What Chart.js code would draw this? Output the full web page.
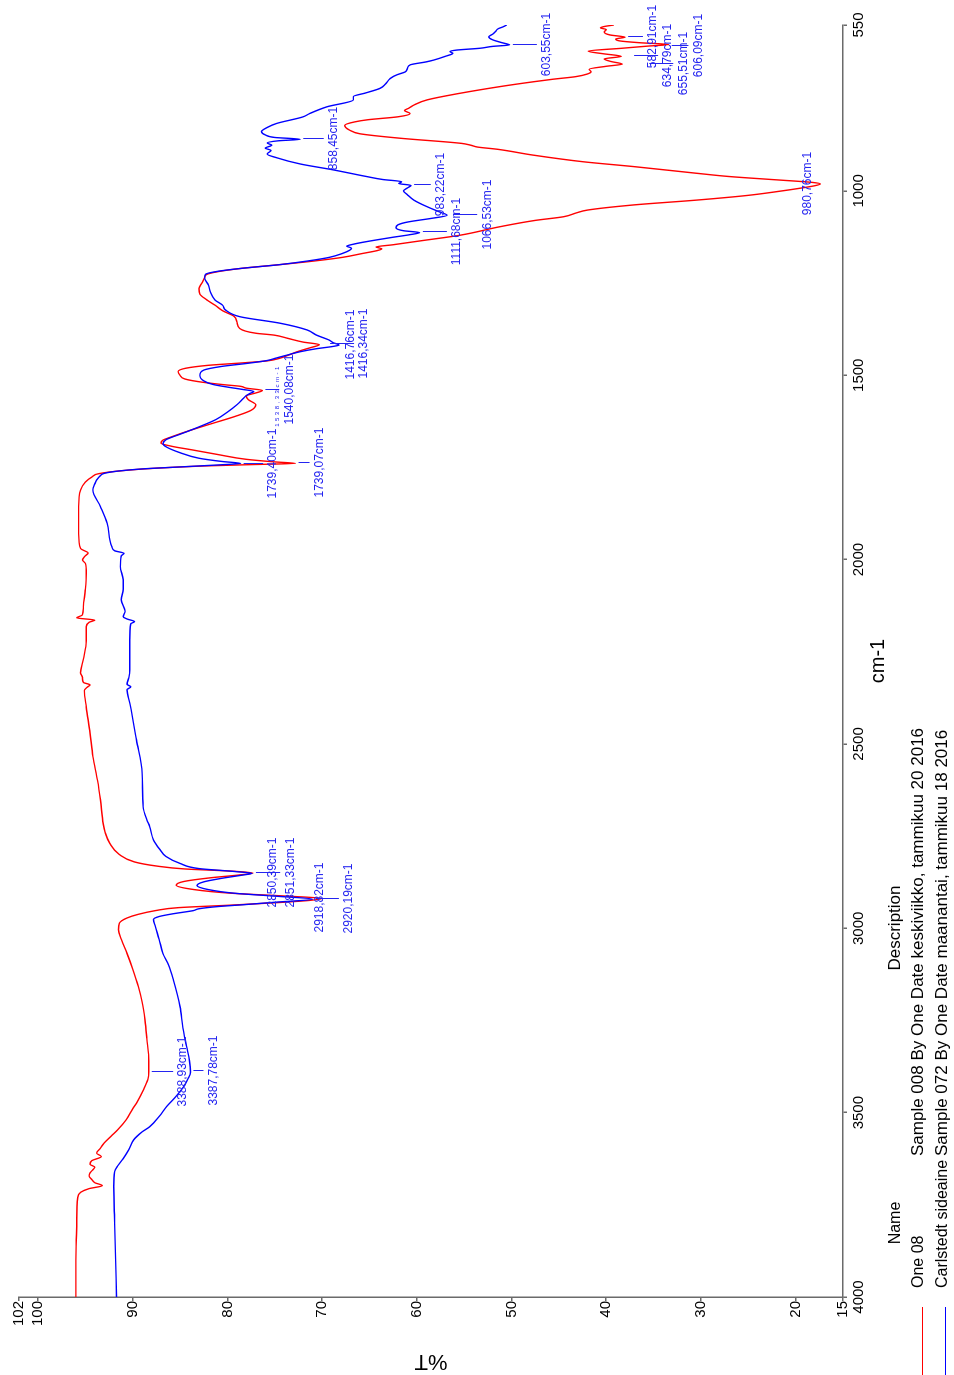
<!DOCTYPE html>
<html>
<head>
<meta charset="utf-8">
<script src="https://cdn.jsdelivr.net/npm/chart.js@4.4.0/dist/chart.umd.min.js"></script>
<style>
  body { margin: 0; background: #fff; }
  /* the spectrum is drawn landscape, then the whole page is turned a quarter left */
  #page {
    position: absolute; left: 0; top: 0; width: 1375px; height: 954px;
    transform-origin: 0 0; transform: translate(0, 1375px) rotate(-90deg);
    font-family: Arial, "Liberation Sans", sans-serif; background: #fff;
  }
  #page canvas { position: absolute; left: 0; top: 0; }
  .lg { position: absolute; font-size: 17px; line-height: 20px; white-space: nowrap; color: #000; }
  .nm { font-size: 16px; }
  .sw { position: absolute; left: 0; width: 68px; height: 0; border-top: 1px solid; }
</style>
</head>
<body>
<div id="page">
  <canvas id="spectrum" width="1375" height="954"></canvas>

  <div class="lg nm" style="left:87px; width:130px; top:885px; text-align:center;">Name</div>
  <div class="lg" style="left:219px; width:456px; top:885px; text-align:center;">Description</div>
  <div class="sw" style="top:922px; border-color:#ff0000;"></div>
  <div class="lg nm" style="left:87px; top:908px;">One 08</div>
  <div class="lg" style="left:219px; top:908px;">Sample 008 By One Date keskiviikko, tammikuu 20 2016</div>
  <div class="sw" style="top:945px; border-color:#0000ff;"></div>
  <div class="lg nm" style="left:87px; top:932px;">Carlstedt sideaine</div>
  <div class="lg" style="left:219px; top:932px;">Sample 072 By One Date maanantai, tammikuu 18 2016</div>
</div>

<script>
// ─── DATA ────────────────────────────────────────────────────────────────────

const xTicks = [4000, 3500, 3000, 2500, 2000, 1500, 1000, 550];
const yTicks = [15, 20, 30, 40, 50, 60, 70, 80, 90, 100, 102];

// One 08 (red)
const redWave = [4000, 3900, 3800, 3730, 3716, 3706, 3698, 3690, 3682, 3672, 3663, 3655, 3648, 3640, 3630, 3619, 3610, 3596, 3582, 3562,
  3547, 3520, 3490, 3470, 3440, 3410, 3389, 3360, 3300, 3249, 3200, 3158, 3110, 3068, 3030, 3004, 2986, 2972, 2962, 2952,
  2944, 2937, 2930, 2924, 2919, 2913, 2905, 2895, 2883, 2873, 2863, 2856, 2850, 2845, 2839, 2831, 2820, 2800, 2770, 2740,
  2717, 2652, 2600, 2534, 2470, 2400, 2355, 2346, 2340, 2333, 2320, 2307, 2270, 2220, 2182, 2170, 2164, 2158, 2150, 2128,
  2082, 2037, 2010, 2001, 1990, 1982, 1970, 1930, 1856, 1811, 1790, 1776, 1767, 1759, 1752, 1746, 1742, 1739, 1735, 1728,
  1715, 1702, 1693, 1684, 1676, 1668, 1650, 1630, 1610, 1595, 1580, 1566, 1556, 1548, 1541, 1535, 1530, 1526, 1519, 1510,
  1500, 1490, 1481, 1473, 1467, 1461, 1454, 1445, 1435, 1425, 1417, 1410, 1400, 1391, 1386, 1373, 1355, 1340, 1325, 1310,
  1295, 1280, 1265, 1250, 1235, 1227, 1219, 1210, 1200, 1190, 1180, 1170, 1162, 1157, 1152, 1146, 1135, 1120, 1097, 1080,
  1070, 1060, 1052, 1038, 1025, 1012, 1002, 993, 986, 981, 977, 970, 961, 952, 934, 921, 903, 887, 881, 876,
  871, 857, 845, 835, 822, 813, 807, 799, 790, 782, 775, 767, 753, 735, 717, 704, 697, 690, 683, 677,
  670, 662, 656, 649, 642, 635, 628, 621, 613, 607, 603, 598, 593, 588, 583, 577, 569, 562, 558, 554, 550];
const redT = [96.0, 96.0, 95.9, 95.8, 95.5, 94.6, 93.2, 94.0, 94.3, 94.6, 94.5, 94.2, 94.0, 94.5, 94.3, 93.3, 93.8, 93.4, 93.0, 92.2,
  91.6, 90.7, 90.0, 89.5, 88.9, 88.4, 88.3, 88.3, 88.5, 88.7, 89.0, 89.4, 90.0, 90.6, 91.2, 91.5, 91.4, 90.6, 89.4, 87.6,
  85.2, 79.5, 74.5, 71.2, 70.0, 73.5, 79.5, 83.5, 85.4, 84.6, 81.8, 79.0, 77.3, 79.5, 84.5, 87.5, 89.8, 91.4, 92.4, 92.9,
  93.1, 93.4, 93.7, 94.2, 94.5, 94.9, 95.1, 94.8, 94.5, 95.2, 95.3, 95.5, 95.2, 94.9, 94.9, 94.6, 94.0, 95.9, 95.3, 95.2,
  95.0, 94.9, 95.0, 95.3, 95.0, 94.7, 95.5, 95.7, 95.7, 95.5, 95.0, 94.3, 93.6, 91.2, 87.5, 82.5, 77.0, 72.8, 75.0, 78.0,
  81.0, 83.8, 85.8, 87.0, 86.8, 86.0, 84.0, 81.5, 79.0, 77.5, 77.0, 77.8, 78.0, 77.0, 76.3, 78.0, 78.6, 80.2, 82.6, 84.5,
  85.0, 85.2, 84.4, 82.0, 78.7, 75.8, 74.5, 73.5, 72.5, 71.2, 70.3, 72.0, 73.6, 75.1, 77.0, 78.7, 79.0, 79.3, 80.5, 81.3,
  82.2, 82.9, 83.0, 82.7, 82.4, 82.2, 81.0, 78.5, 74.5, 70.8, 67.8, 65.8, 64.2, 63.7, 64.3, 62.5, 59.5, 55.4, 51.2, 47.5,
  44.5, 43.2, 42.0, 37.1, 30.5, 25.0, 22.0, 19.6, 18.0, 17.4, 18.2, 22.0, 27.0, 30.5, 37.1, 42.4, 47.7, 51.5, 53.6, 54.3,
  55.3, 61.8, 66.0, 67.1, 67.6, 66.6, 65.2, 62.0, 60.7, 61.3, 60.8, 60.3, 58.9, 55.4, 51.2, 47.7, 45.6, 43.2, 42.0, 41.6,
  41.8, 40.0, 38.3, 39.5, 40.2, 38.4, 40.3, 41.9, 38.3, 35.5, 33.4, 36.5, 38.6, 39.0, 38.0, 39.6, 40.2, 40.0, 40.6, 40.2, 39.2];

// Carlstedt sideaine (blue)
const blueWave = [4000, 3900, 3800, 3700, 3660, 3645, 3625, 3600, 3574, 3552, 3538, 3510, 3483, 3455, 3429, 3410, 3390, 3360, 3321, 3270,
  3212, 3140, 3100, 3068, 3030, 2995, 2976, 2968, 2960, 2952, 2947, 2941, 2936, 2929, 2921, 2913, 2905, 2895, 2884, 2874,
  2864, 2856, 2851, 2846, 2838, 2824, 2805, 2787, 2760, 2724, 2706, 2670, 2579, 2489, 2390, 2353, 2345, 2338, 2320, 2299,
  2250, 2218, 2174, 2168, 2161, 2155, 2140, 2109, 2080, 2055, 2019, 1990, 1983, 1976, 1965, 1901, 1856, 1811, 1795, 1784,
  1772, 1766, 1760, 1754, 1748, 1743, 1739, 1734, 1725, 1710, 1695, 1686, 1675, 1660, 1640, 1620, 1600, 1580, 1565, 1555,
  1549, 1544, 1538, 1532, 1525, 1515, 1500, 1486, 1476, 1468, 1460, 1453, 1446, 1436, 1428, 1422, 1418, 1412, 1404, 1391,
  1377, 1359, 1341, 1323, 1310, 1296, 1274, 1255, 1236, 1226, 1218, 1210, 1200, 1190, 1180, 1170, 1161, 1155, 1150, 1144,
  1137, 1126, 1119, 1113, 1108, 1100, 1092, 1084, 1075, 1066, 1058, 1043, 1025, 1010, 1000, 992, 985, 980, 975, 969,
  961, 943, 927, 910, 900, 890, 884, 876, 870, 864, 860, 855, 848, 839, 828, 817, 799, 790, 772, 753,
  744, 735, 722, 710, 695, 685, 677, 668, 658, 650, 645, 635, 627, 622, 618, 613, 608, 604, 598, 590,
  582, 575, 568, 560, 555, 550];
const blueT = [91.7, 91.8, 91.9, 92.0, 91.9, 91.6, 91.0, 90.4, 89.9, 89.0, 88.2, 87.2, 86.4, 85.4, 84.6, 84.2, 83.9, 84.0, 84.3, 84.7,
  85.0, 85.7, 86.2, 86.8, 87.2, 87.6, 87.8, 87.2, 85.6, 83.6, 83.0, 81.0, 78.3, 74.8, 71.0, 74.8, 79.2, 82.0, 83.2, 82.5,
  80.5, 78.5, 77.4, 79.2, 83.0, 85.0, 86.5, 87.1, 87.8, 88.2, 88.5, 88.9, 89.0, 89.6, 90.3, 90.6, 90.2, 90.6, 90.4, 90.3,
  90.3, 90.3, 90.2, 89.8, 90.6, 91.0, 90.8, 91.2, 91.0, 91.0, 91.3, 91.2, 90.9, 91.9, 92.2, 92.7, 93.4, 94.2, 94.0, 93.8,
  93.4, 93.0, 91.6, 89.0, 84.5, 80.8, 78.6, 80.5, 83.0, 85.0, 86.4, 86.8, 86.5, 85.0, 83.0, 81.2, 80.0, 79.0, 78.4, 78.0,
  77.6, 77.2, 78.5, 80.0, 81.5, 82.5, 82.9, 82.5, 80.6, 78.0, 75.8, 74.8, 73.8, 72.3, 70.6, 68.9, 68.2, 68.8, 69.3, 70.6,
  71.6, 74.4, 78.7, 80.2, 80.5, 81.3, 81.8, 82.0, 82.4, 82.3, 81.0, 78.5, 74.5, 71.5, 69.2, 67.9, 67.1, 66.9, 67.4, 66.6,
  65.2, 62.6, 60.8, 59.7, 61.4, 62.2, 62.0, 60.9, 58.6, 56.8, 57.5, 58.9, 60.3, 61.0, 61.4, 61.0, 60.6, 61.9, 61.6, 63.6,
  65.3, 68.8, 72.3, 74.8, 75.8, 75.4, 76.0, 75.3, 75.8, 74.6, 72.3, 75.0, 76.0, 76.4, 75.8, 74.8, 72.0, 71.3, 69.5, 66.7,
  66.7, 65.5, 63.9, 63.3, 62.8, 62.1, 61.2, 61.0, 60.7, 59.0, 58.2, 57.0, 56.2, 56.5, 55.8, 53.3, 52.0, 50.2, 51.0, 52.0,
  52.4, 52.0, 51.7, 51.4, 50.9, 50.5];

// peak picks: wavenumber, %T of the picked point, %T where its label starts
const peakWave  = [3388.93, 3387.78, 2850.39, 2851.33, 2918.82, 2920.19, 1739.40, 1739.07, 1540.08, 1416.76, 1416.34,
  1111.68, 1066.53, 983.22, 858.45, 980.76, 603.55, 582.91, 634.79, 655.51, 606.09];
const peakTipT  = [88.3, 83.9, 77.3, 77.4, 70.0, 71.0, 78.6, 72.8, 76.3, 68.2, 70.3,
  59.7, 56.8, 60.6, 72.3, 17.4, 50.2, 38.0, 38.4, 38.3, 33.4];
const peakTextT = [85.3, 82.1, 75.8, 74.0, 70.9, 67.8, 75.8, 70.9, 74.1, 67.6, 66.2,
  56.4, 53.2, 58.1, 69.4, 19.4, 46.9, 35.7, 34.1, 32.5, 30.9];

// the squeezed pick that sits next to 1739,40
const tinyWave = [1555];
const tinyT = [75.0];
const tinyText = ['1538,33cm-1'];

// ─── CHART ───────────────────────────────────────────────────────────────────

const FONT = 'Arial, "Liberation Sans", sans-serif';
const AXIS = '#6a6a6a';
const PICK = '#2424f0';

Chart.defaults.font.family = FONT;
Chart.defaults.color = '#000';

const peakLabels = {
  id: 'peakLabels',
  afterDatasetsDraw(chart) {
    const { ctx, scales: { x, y } } = chart;
    ctx.save();
    ctx.strokeStyle = PICK;
    ctx.fillStyle = PICK;
    ctx.lineWidth = 1;
    ctx.textAlign = 'center';
    ctx.textBaseline = 'top';
    ctx.font = '12px ' + FONT;

    peakWave.forEach((w, i) => {
      const px = Math.round(x.getPixelForValue(w)) + 0.5;
      const tip = y.getPixelForValue(peakTipT[i]);
      const top = y.getPixelForValue(peakTextT[i]);
      if (top - tip > 8) {
        ctx.beginPath();
        ctx.moveTo(px, Math.max(tip + 3, top - 28));
        ctx.lineTo(px, top - 4);
        ctx.stroke();
      }
      ctx.fillText(w.toFixed(2).replace('.', ',') + 'cm-1', px, top);
    });

    ctx.font = '6px ' + FONT;
    ctx.letterSpacing = '2.5px';
    tinyWave.forEach((w, i) => {
      ctx.fillText(tinyText[i], x.getPixelForValue(w), y.getPixelForValue(tinyT[i]));
    });
    ctx.restore();
  }
};

const toPoints = (wave, t) => wave.map((w, i) => ({ x: w, y: t[i] }));

new Chart(document.getElementById('spectrum'), {
  type: 'line',
  data: {
    datasets: [
      {
        label: 'Carlstedt sideaine',
        data: toPoints(blueWave, blueT),
        borderColor: '#0000ff',
        borderWidth: 1.4,
        pointRadius: 0,
        cubicInterpolationMode: 'monotone',
        fill: false
      },
      {
        label: 'One 08',
        data: toPoints(redWave, redT),
        borderColor: '#ff0000',
        borderWidth: 1.4,
        pointRadius: 0,
        cubicInterpolationMode: 'monotone',
        fill: false
      }
    ]
  },
  options: {
    responsive: false,
    animation: false,
    devicePixelRatio: 1,
    layout: { padding: { left: 0, right: 25, top: 19, bottom: 64 } },
    plugins: { legend: { display: false }, tooltip: { enabled: false } },
    scales: {
      x: {
        type: 'linear',
        reverse: true,
        min: 550,
        max: 4000,
        afterBuildTicks: s => { s.ticks = xTicks.map(v => ({ value: v })); },
        afterFit: s => { s.height = 47; },
        ticks: { font: { size: 15 }, color: '#000', padding: 3, maxRotation: 0, autoSkip: false, callback: v => String(v) },
        grid: { drawOnChartArea: false, drawTicks: true, tickLength: 4, color: AXIS, lineWidth: 1.5 },
        border: { display: true, color: AXIS, width: 1.5 },
        title: { display: true, text: 'cm-1', font: { size: 20 }, color: '#000', padding: 0 }
      },
      y: {
        min: 15,
        max: 102,
        afterBuildTicks: s => { s.ticks = yTicks.map(v => ({ value: v })); },
        afterFit: s => { s.width = 78; },
        ticks: { font: { size: 15 }, color: '#000', padding: 0, autoSkip: false, callback: v => String(v) },
        grid: { drawOnChartArea: false, drawTicks: true, tickLength: 4, color: AXIS, lineWidth: 1.5 },
        border: { display: true, color: AXIS, width: 1.5 },
        title: { display: true, text: '%T', font: { size: 22 }, color: '#000', padding: { top: 1, bottom: 0 } }
      }
    }
  },
  plugins: [peakLabels]
});
</script>
</body>
</html>
